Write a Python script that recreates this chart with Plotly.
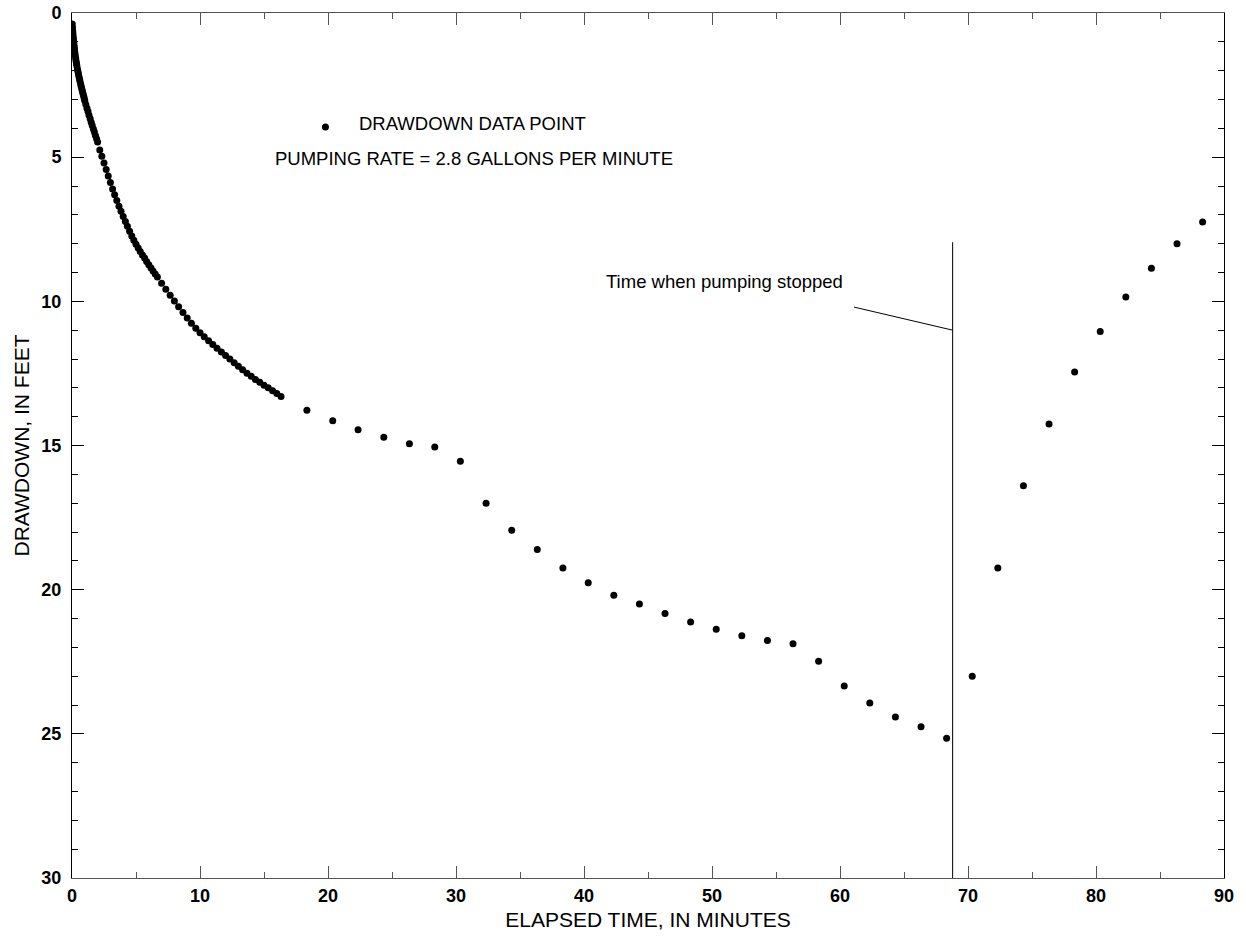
import plotly.graph_objects as go

# ---------------- data ----------------
# early pumping record, closely spaced readings (minutes, feet)
t_early = [0.02, 0.04, 0.06, 0.08, 0.10, 0.12, 0.14, 0.16, 0.18, 0.20, 0.23, 0.26,
           0.29, 0.32, 0.35, 0.38, 0.42, 0.46, 0.50, 0.54, 0.58, 0.62, 0.67, 0.71,
           0.75, 0.79, 0.83, 0.88, 0.92, 0.96, 1.00,
           1.08, 1.17, 1.25, 1.33, 1.42, 1.50, 1.58, 1.67, 1.75, 1.83, 1.92, 2.00,
           2.17, 2.33, 2.50, 2.67, 2.83, 3.00, 3.17, 3.33, 3.50, 3.67, 3.83, 4.00,
           4.17, 4.33, 4.50, 4.67, 4.83, 5.00, 5.17, 5.33, 5.50, 5.67, 5.83, 6.00,
           6.17, 6.33, 6.50,
           6.67, 7.00, 7.33, 7.67, 8.00, 8.33, 8.67, 9.00, 9.33, 9.67, 10.00, 10.33,
           10.67, 11.00, 11.33, 11.67, 12.00, 12.33, 12.67, 13.00, 13.33, 13.67, 14.00,
           14.33, 14.67, 15.00, 15.33, 15.67, 16.00, 16.33]
s_early = [0.38, 0.50, 0.62, 0.73, 0.84, 0.94, 1.03, 1.12, 1.20, 1.28, 1.39, 1.49,
           1.58, 1.67, 1.75, 1.83, 1.93, 2.02, 2.11, 2.20, 2.28, 2.36, 2.45, 2.53,
           2.60, 2.67, 2.75, 2.83, 2.90, 2.97, 3.04,
           3.17, 3.30, 3.42, 3.55, 3.67, 3.79, 3.90, 4.02, 4.13, 4.25, 4.36, 4.47,
           4.75, 4.97, 5.20, 5.43, 5.65, 5.88, 6.10, 6.30, 6.50, 6.70, 6.88, 7.06,
           7.23, 7.40, 7.57, 7.73, 7.88, 8.02, 8.15, 8.27, 8.39, 8.50, 8.62, 8.73,
           8.84, 8.95, 9.05,
           9.16, 9.37, 9.58, 9.79, 9.99, 10.19, 10.39, 10.58, 10.76, 10.93, 11.09, 11.23,
           11.37, 11.50, 11.63, 11.76, 11.88, 12.00, 12.13, 12.25, 12.37, 12.49, 12.60,
           12.71, 12.81, 12.91, 13.00, 13.10, 13.20, 13.30]

# later pumping record, 2-minute readings
t_pump = [18.35, 20.37, 22.35, 24.36, 26.36, 28.34, 30.34, 32.35, 34.35, 36.35,
          38.35, 40.33, 42.33, 44.33, 46.33, 48.33, 50.33, 52.33, 54.33, 56.33,
          58.33, 60.33, 62.33, 64.33, 66.33, 68.33]
s_pump = [13.78, 14.14, 14.45, 14.71, 14.94, 15.05, 15.55, 17.00, 17.94, 18.61,
          19.25, 19.76, 20.19, 20.50, 20.83, 21.12, 21.37, 21.60, 21.76, 21.88,
          22.48, 23.34, 23.93, 24.42, 24.75, 25.15]

# recovery record after pump stopped
t_recovery = [70.33, 72.33, 74.33, 76.33, 78.33, 80.33, 82.33, 84.33, 86.33, 88.33]
s_recovery = [23.00, 19.25, 16.40, 14.25, 12.45, 11.05, 9.85, 8.85, 8.00, 7.25]

PUMP_STOP_TIME = 68.8
PUMP_STOP_LINE_TOP = 7.95

x_tick_vals = [0, 10, 20, 30, 40, 50, 60, 70, 80, 90]
y_tick_vals = [0, 5, 10, 15, 20, 25, 30]

legend_point_x = [19.8]
legend_point_y = [3.95]

# ---------------- figure ----------------
FONT = "Liberation Sans, Arial, Helvetica, sans-serif"

t_all = t_early + t_pump + t_recovery
s_all = s_early + s_pump + s_recovery

fig = go.Figure()

fig.add_trace(go.Scatter(
    x=t_all, y=s_all, mode="markers",
    marker=dict(color="black", size=7, line=dict(width=0)),
    showlegend=False, hoverinfo="x+y"))

# legend marker
fig.add_trace(go.Scatter(
    x=legend_point_x, y=legend_point_y, mode="markers",
    marker=dict(color="black", size=7, line=dict(width=0)),
    showlegend=False, hoverinfo="skip"))

# vertical line where pumping stopped
fig.add_trace(go.Scatter(
    x=[PUMP_STOP_TIME, PUMP_STOP_TIME], y=[PUMP_STOP_LINE_TOP, 30],
    mode="lines", line=dict(color="black", width=1),
    showlegend=False, hoverinfo="skip"))

# leader line for the label
fig.add_trace(go.Scatter(
    x=[61.1, PUMP_STOP_TIME], y=[10.2, 11.0],
    mode="lines", line=dict(color="black", width=1),
    showlegend=False, hoverinfo="skip"))

fig.add_annotation(x=60.4, y=9.3, xref="x", yref="y", text="Time when pumping stopped",
                   showarrow=False, xanchor="right", yanchor="middle",
                   font=dict(family=FONT, size=18.5, color="black"))
fig.add_annotation(x=22.3, y=3.82, xref="x", yref="y", text="DRAWDOWN DATA POINT",
                   showarrow=False, xanchor="left", yanchor="middle",
                   font=dict(family=FONT, size=18.5, color="black"))
fig.add_annotation(x=15.69, y=5.03, xref="x", yref="y",
                   text="PUMPING RATE = 2.8 GALLONS PER MINUTE",
                   showarrow=False, xanchor="left", yanchor="middle",
                   font=dict(family=FONT, size=18.5, color="black"))

fig.update_xaxes(
    range=[0, 90], tickvals=x_tick_vals, ticktext=[str(v) for v in x_tick_vals],
    ticks="inside", ticklen=12, tickwidth=1, tickcolor="#555",
    minor=dict(dtick=5, tick0=0, ticks="inside", ticklen=6, tickcolor="#555", tickwidth=1),
    showline=True, linecolor="#555", linewidth=1, mirror="ticks",
    showgrid=False, zeroline=False, automargin=False,
    tickfont=dict(family=FONT, size=18, color="black", weight="bold"),
    ticklabelstandoff=1,
    title=dict(text="ELAPSED TIME, IN MINUTES", standoff=7,
               font=dict(family=FONT, size=21, color="black")),
)
fig.update_yaxes(
    range=[30, 0], tickvals=y_tick_vals, ticktext=[str(v) for v in y_tick_vals],
    ticks="inside", ticklen=12, tickwidth=1, tickcolor="black",
    minor=dict(dtick=1, tick0=0, ticks="inside", ticklen=6, tickcolor="black", tickwidth=1),
    showline=True, linecolor="black", linewidth=1, mirror="ticks",
    showgrid=False, zeroline=False, automargin=False,
    tickfont=dict(family=FONT, size=18, color="black", weight="bold"),
    ticklabelstandoff=6,
    title=dict(text="DRAWDOWN, IN FEET", standoff=6,
               font=dict(family=FONT, size=21, color="black")),
)

fig.update_layout(
    width=1246, height=944,
    margin=dict(l=72, r=22, t=13, b=66),
    plot_bgcolor="white", paper_bgcolor="white",
    showlegend=False,
)

fig.write_html("out.html")
